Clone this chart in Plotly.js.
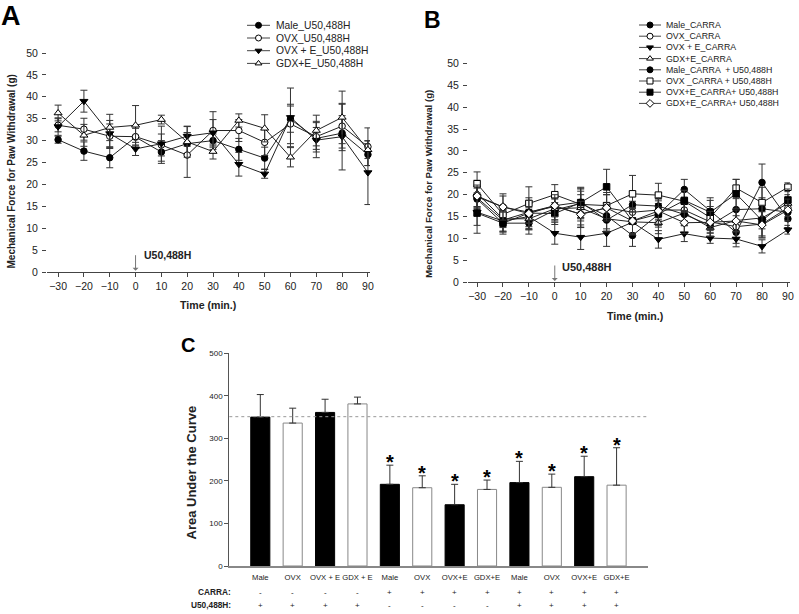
<!DOCTYPE html>
<html><head><meta charset="utf-8">
<script src="https://cdn.plot.ly/plotly-3.0.1.min.js"></script>
<style>html,body{margin:0;padding:0;background:#fff}#chart{width:799px;height:614px}</style>
</head><body><div id="chart"></div>
<script>
// ---------- DATA ----------
const timeMin = [-30, -20, -10, 0, 10, 20, 30, 40, 50, 60, 70, 80, 90];

// Panel A (U50,488H)
const namesA = ["Male_U50,488H", "OVX_U50,488H", "OVX + E_U50,488H", "GDX+E_U50,488H"];
const maleU50  = [30.2, 27.6, 26.1, 30.8, 27.4, 29.3, 30.0, 28.0, 26.0, 34.9, 30.5, 31.7, 26.8];
const ovxU50   = [33.5, 32.6, 31.0, 30.9, 29.0, 26.7, 32.3, 32.3, 29.6, 33.8, 30.9, 33.3, 28.6];
const ovxEU50  = [33.2, 39.0, 31.6, 28.1, 29.3, 31.0, 31.8, 24.6, 22.4, 35.3, 30.1, 30.9, 22.7];
const gdxEU50  = [36.3, 31.2, 33.0, 33.5, 34.8, 29.7, 27.5, 34.6, 32.8, 26.2, 32.3, 35.3, 27.9];
const maleU50Err = [0.8, 2.1, 2.3, 2.0, 2.6, 2.5, 1.5, 2.5, 2.5, 3.0, 2.5, 4.0, 2.5];
const ovxU50Err  = [1.5, 2.5, 2.8, 2.5, 2.5, 5.1, 4.3, 2.5, 3.0, 4.5, 3.5, 5.0, 4.3];
const ovxEU50Err = [2.0, 2.5, 3.0, 1.5, 4.0, 2.3, 3.0, 2.7, 1.0, 6.7, 4.0, 7.6, 7.3];
const gdxEU50Err = [1.8, 2.5, 3.0, 4.5, 1.0, 3.5, 1.7, 1.5, 3.1, 2.2, 3.5, 6.0, 2.0];

// Panel B (CARRA, CARRA + U50,488H)
const namesB = ["Male_CARRA", "OVX_CARRA", "OVX + E_CARRA", "GDX+E_CARRA",
  "Male_CARRA  + U50,488H", "OVX _CARRA + U50,488H", "OVX+E_CARRA+ U50,488H", "GDX+E_CARRA+ U50,488H"];
const maleCarra   = [19.0, 13.5, 13.5, 16.5, 18.0, 15.2, 10.7, 15.5, 21.2, 16.2, 11.4, 22.8, 14.5];
const ovxCarra    = [19.5, 17.2, 16.0, 17.3, 15.6, 17.0, 16.0, 16.5, 16.5, 13.8, 12.7, 13.3, 17.0];
const ovxECarra   = [16.0, 14.0, 15.0, 11.2, 10.3, 11.2, 13.7, 9.8, 11.1, 10.1, 9.9, 8.2, 12.0];
const gdxECarra   = [20.3, 14.5, 14.5, 16.8, 17.0, 14.5, 13.8, 13.6, 15.8, 12.5, 14.1, 14.7, 18.0];
const maleCarraU  = [19.3, 14.2, 16.0, 17.5, 18.3, 14.2, 17.7, 17.4, 15.5, 13.0, 16.6, 16.8, 16.0];
const ovxCarraU   = [22.5, 15.5, 18.0, 20.0, 17.8, 17.5, 20.2, 19.9, 18.5, 14.8, 21.5, 18.2, 21.7];
const ovxECarraU  = [15.8, 13.5, 15.8, 15.7, 18.2, 21.8, 14.0, 15.6, 18.7, 16.0, 20.2, 14.1, 18.8];
const gdxECarraU  = [19.7, 17.2, 15.7, 17.5, 15.5, 17.0, 14.0, 16.3, 13.6, 13.7, 14.0, 13.1, 16.5];
const maleCarraErr  = [2.5, 2.0, 2.5, 2.5, 3.5, 3.0, 2.5, 2.5, 2.3, 2.5, 2.5, 4.2, 2.0];
const ovxCarraErr   = [2.5, 2.5, 2.5, 2.0, 3.0, 3.0, 2.5, 2.5, 2.5, 2.0, 2.5, 3.0, 2.0];
const ovxECarraErr  = [3.0, 2.5, 3.0, 2.5, 2.8, 3.0, 2.5, 2.0, 1.8, 1.2, 1.8, 1.5, 1.0];
const gdxECarraErr  = [3.0, 2.0, 2.5, 2.5, 3.0, 3.0, 3.0, 2.5, 2.5, 2.0, 2.5, 2.5, 2.0];
const maleCarraUErr = [2.5, 2.5, 2.5, 2.0, 3.0, 2.5, 3.0, 3.0, 2.5, 2.5, 2.5, 2.5, 2.0];
const ovxCarraUErr  = [2.7, 2.0, 3.8, 2.3, 3.0, 3.0, 4.2, 2.7, 2.5, 2.5, 2.0, 3.5, 1.0];
const ovxECarraUErr = [4.6, 2.5, 3.5, 2.5, 3.5, 4.0, 3.0, 3.0, 2.3, 3.3, 3.3, 3.5, 2.5];
const gdxECarraUErr = [2.5, 3.0, 3.0, 2.5, 3.0, 3.0, 3.0, 3.0, 2.5, 2.5, 2.5, 3.0, 2.5];

// Panel C (Area under the curve)
const groupsC = ["Male", "OVX", "OVX + E", "GDX + E", "Male", "OVX", "OVX+E", "GDX+E", "Male", "OVX", "OVX+E", "GDX+E"];
const aucValues = [350, 336, 361, 381, 192, 184, 144, 180, 196, 185, 210, 190];
const aucErr    = [53, 35, 31, 16, 45, 28, 48, 22, 50, 31, 48, 88];
const carraRow  = ["-", "-", "-", "-", "+", "+", "+", "+", "+", "+", "+", "+"];
const u50Row    = ["+", "+", "+", "+", "-", "-", "-", "-", "+", "+", "+", "+"];
const significant = [false, false, false, false, true, true, true, true, true, true, true, true];
const referenceLine = 351;

// ---------- STYLE / LAYOUT ----------
const W = 799, H = 614;
const FONT = "Liberation Sans, Arial, sans-serif";
const TXT = "#222";
const px = x => x / W;
const py = y => 1 - y / H;

const fillBlack = "#000", fillWhite = "#fff";
const symA = [
  {symbol: "circle", color: fillBlack},
  {symbol: "circle", color: fillWhite},
  {symbol: "triangle-down", color: fillBlack},
  {symbol: "triangle-up", color: fillWhite}
];
const symB = [
  {symbol: "circle", color: fillBlack},
  {symbol: "circle", color: fillWhite},
  {symbol: "triangle-down", color: fillBlack},
  {symbol: "triangle-up", color: fillWhite},
  {symbol: "circle", color: fillBlack},
  {symbol: "square", color: fillWhite},
  {symbol: "square", color: fillBlack},
  {symbol: "diamond", color: fillWhite}
];

const seriesA = [[maleU50, maleU50Err], [ovxU50, ovxU50Err], [ovxEU50, ovxEU50Err], [gdxEU50, gdxEU50Err]];
const seriesB = [[maleCarra, maleCarraErr], [ovxCarra, ovxCarraErr], [ovxECarra, ovxECarraErr], [gdxECarra, gdxECarraErr],
  [maleCarraU, maleCarraUErr], [ovxCarraU, ovxCarraUErr], [ovxECarraU, ovxECarraUErr], [gdxECarraU, gdxECarraUErr]];

const traces = [];
function lineTrace(vals, err, sym, name, xa, ya) {
  return {
    type: "scatter", mode: "lines+markers", name: name, x: timeMin, y: vals,
    xaxis: xa, yaxis: ya, showlegend: false, cliponaxis: false,
    line: {color: "#222", width: 1},
    marker: {symbol: sym.symbol, color: sym.color, size: sym.symbol.indexOf("triangle") === 0 ? 7 : 6.5,
             line: {color: "#000", width: 1}},
    error_y: {type: "data", array: err, visible: true, color: "#333", thickness: 1, width: 3.5}
  };
}
seriesA.forEach((s, i) => traces.push(lineTrace(s[0], s[1], symA[i], namesA[i], "x", "y")));
seriesB.forEach((s, i) => traces.push(lineTrace(s[0], s[1], symB[i], namesB[i], "x2", "y2")));

// Panel C bars
traces.push({
  type: "bar", x: groupsC.map((g, i) => i), y: aucValues, xaxis: "x3", yaxis: "y3",
  width: 0.59, showlegend: false, name: "AUC",
  marker: {color: groupsC.map((g, i) => i % 2 === 0 ? fillBlack : fillWhite),
           line: {color: groupsC.map((g, i) => i % 2 === 0 ? "#000" : "#888"), width: 1}},
  error_y: {type: "data", symmetric: false, array: aucErr, arrayminus: aucErr.map(() => 0),
            color: "#333", thickness: 1, width: 3.5}
});

// Custom legends (on a hidden full-page axis in pixel units)
const annotations = [];
function legend(names, syms, x0, x1, textX, y0, gap, fsize) {
  names.forEach((n, i) => {
    const y = y0 + i * gap;
    traces.push({type: "scatter", mode: "lines", x: [x0, x1], y: [y, y], xaxis: "x4", yaxis: "y4",
      showlegend: false, hoverinfo: "skip", line: {color: "#444", width: 1}});
    traces.push({type: "scatter", mode: "markers", x: [(x0 + x1) / 2], y: [y], xaxis: "x4", yaxis: "y4",
      showlegend: false, hoverinfo: "skip",
      marker: {symbol: syms[i].symbol, color: syms[i].color, size: 6, line: {color: "#000", width: 1}}});
    annotations.push({xref: "paper", yref: "paper", x: px(textX), y: py(y), xanchor: "left", yanchor: "middle",
      text: n, showarrow: false, font: {family: FONT, size: fsize, color: TXT}});
  });
}
legend(namesA, symA, 247, 270, 274, 25.3, 12.7, 10.3);
legend(namesB, symB, 639, 661, 664, 25, 11.2, 8.8);

// Panel letters
annotations.push({xref: "paper", yref: "paper", x: px(11), y: py(16), text: "<b>A</b>", showarrow: false,
  xanchor: "center", yanchor: "middle", font: {family: FONT, size: 27, color: "#000"}});
annotations.push({xref: "paper", yref: "paper", x: px(432), y: py(20), text: "<b>B</b>", showarrow: false,
  xanchor: "center", yanchor: "middle", font: {family: FONT, size: 23, color: "#000"}});
annotations.push({xref: "paper", yref: "paper", x: px(188), y: py(345), text: "<b>C</b>", showarrow: false,
  xanchor: "center", yanchor: "middle", font: {family: FONT, size: 20, color: "#000"}});

// Axis titles
const yTitle = "Mechanical Force for Paw Withdrawal (g)";
annotations.push({xref: "paper", yref: "paper", x: px(10.5), y: py(172), text: "<b>" + yTitle + "</b>", textangle: -90,
  showarrow: false, xanchor: "center", yanchor: "middle", font: {family: FONT, size: 10, color: TXT}});
annotations.push({xref: "paper", yref: "paper", x: px(428), y: py(184), text: "<b>" + yTitle + "</b>", textangle: -90,
  showarrow: false, xanchor: "center", yanchor: "middle", font: {family: FONT, size: 9.7, color: TXT}});
annotations.push({xref: "paper", yref: "paper", x: px(208), y: py(305), text: "<b>Time (min.)</b>",
  showarrow: false, xanchor: "center", yanchor: "middle", font: {family: FONT, size: 10.6, color: TXT}});
annotations.push({xref: "paper", yref: "paper", x: px(635), y: py(316), text: "<b>Time (min.)</b>",
  showarrow: false, xanchor: "center", yanchor: "middle", font: {family: FONT, size: 10.6, color: TXT}});
annotations.push({xref: "paper", yref: "paper", x: px(190.5), y: py(473), text: "<b>Area Under the Curve</b>", textangle: -90,
  showarrow: false, xanchor: "center", yanchor: "middle", font: {family: FONT, size: 13, color: TXT}});

// Injection arrows
[["x", "y", 6, 3.9, 10.5], ["x2", "y2", 5, 3.4, 11]].forEach(a => {
  annotations.push({xref: a[0], yref: a[1], x: 0, y: 0.3, ax: 0, ay: -17, text: "", showarrow: true,
    arrowhead: 1, arrowsize: 1, arrowwidth: 1, arrowcolor: "#777"});
  annotations.push({xref: a[0], yref: a[1], x: 0, y: a[3], xshift: a[2], text: "<b>U50,488H</b>", showarrow: false,
    xanchor: "left", yanchor: "middle", font: {family: FONT, size: a[4], color: TXT}});
});

// Stars
aucValues.forEach((v, i) => {
  if (significant[i]) annotations.push({xref: "x3", yref: "y3", x: i, y: v + aucErr[i], text: "<b>*</b>",
    showarrow: false, xanchor: "center", yanchor: "middle", yshift: 3, font: {family: FONT, size: 20, color: "#000"}});
});

// Treatment rows
annotations.push({xref: "paper", yref: "paper", x: px(233), y: py(592), text: "<b>CARRA:</b>", showarrow: false,
  xanchor: "right", yanchor: "middle", font: {family: FONT, size: 8.3, color: TXT}});
annotations.push({xref: "paper", yref: "paper", x: px(233), y: py(605), text: "<b>U50,488H:</b>", showarrow: false,
  xanchor: "right", yanchor: "middle", font: {family: FONT, size: 8.3, color: TXT}});
carraRow.forEach((s, i) => annotations.push({xref: "x3", yref: "paper", x: i, y: py(592), text: s, showarrow: false,
  xanchor: "center", yanchor: "middle", font: {family: FONT, size: 8, color: TXT}}));
u50Row.forEach((s, i) => annotations.push({xref: "x3", yref: "paper", x: i, y: py(605), text: s, showarrow: false,
  xanchor: "center", yanchor: "middle", font: {family: FONT, size: 8, color: TXT}}));

const tickFontBig = {family: FONT, size: 10.5, color: TXT};
const timeAxis = (dom, rng, anchor) => ({
  domain: dom, range: rng, anchor: anchor, tickvals: timeMin, showgrid: false, zeroline: false,
  showline: true, linecolor: "#444", linewidth: 1, ticks: "outside", ticklen: 4, tickcolor: "#444",
  tickfont: tickFontBig, fixedrange: true
});
const forceAxis = (dom, anchor) => ({
  domain: dom, range: [0, 50], anchor: anchor, tickvals: [0, 5, 10, 15, 20, 25, 30, 35, 40, 45, 50],
  showgrid: false, zeroline: false, showline: false, ticks: "outside", ticklen: 4, tickcolor: "#444",
  tickfont: tickFontBig, fixedrange: true, ticklabelstandoff: 2
});

const layout = {
  width: W, height: H, margin: {l: 0, r: 0, t: 0, b: 0}, paper_bgcolor: "#fff", plot_bgcolor: "rgba(0,0,0,0)",
  showlegend: false, font: {family: FONT, color: TXT},
  xaxis: timeAxis([px(47), px(370)], [-34.3, 90.8], "y"),
  yaxis: forceAxis([py(272), py(53)], "x"),
  xaxis2: timeAxis([px(468), px(790)], [-33.5, 90.8], "y2"),
  yaxis2: forceAxis([py(282.3), py(63.3)], "x2"),
  xaxis3: {domain: [px(229.3), px(648)], range: [-0.957, 11.97], anchor: "y3",
    tickvals: groupsC.map((g, i) => i), ticktext: groupsC, ticks: "", showgrid: false, zeroline: false,
    showline: true, linecolor: "#888", linewidth: 1.5, tickfont: {family: FONT, size: 7.7, color: TXT},
    ticklabelstandoff: 3, fixedrange: true},
  yaxis3: {domain: [py(566), py(353.3)], range: [0, 500], anchor: "x3", tickvals: [0, 100, 200, 300, 400, 500],
    showgrid: false, zeroline: false, showline: true, linecolor: "#555", linewidth: 1, ticks: "outside", ticklen: 4,
    tickcolor: "#555", tickfont: {family: FONT, size: 8, color: TXT}, fixedrange: true},
  xaxis4: {domain: [0, 1], range: [0, W], anchor: "y4", visible: false, fixedrange: true},
  yaxis4: {domain: [0, 1], range: [H, 0], anchor: "x4", visible: false, fixedrange: true},
  shapes: [{type: "line", xref: "x3 domain", yref: "y3", x0: 0, x1: 1, y0: referenceLine, y1: referenceLine,
    line: {color: "#999", width: 1, dash: "dot"}}],
  annotations: annotations
};

Plotly.newPlot("chart", traces, layout, {staticPlot: true, displayModeBar: false});
</script>
</body></html>
